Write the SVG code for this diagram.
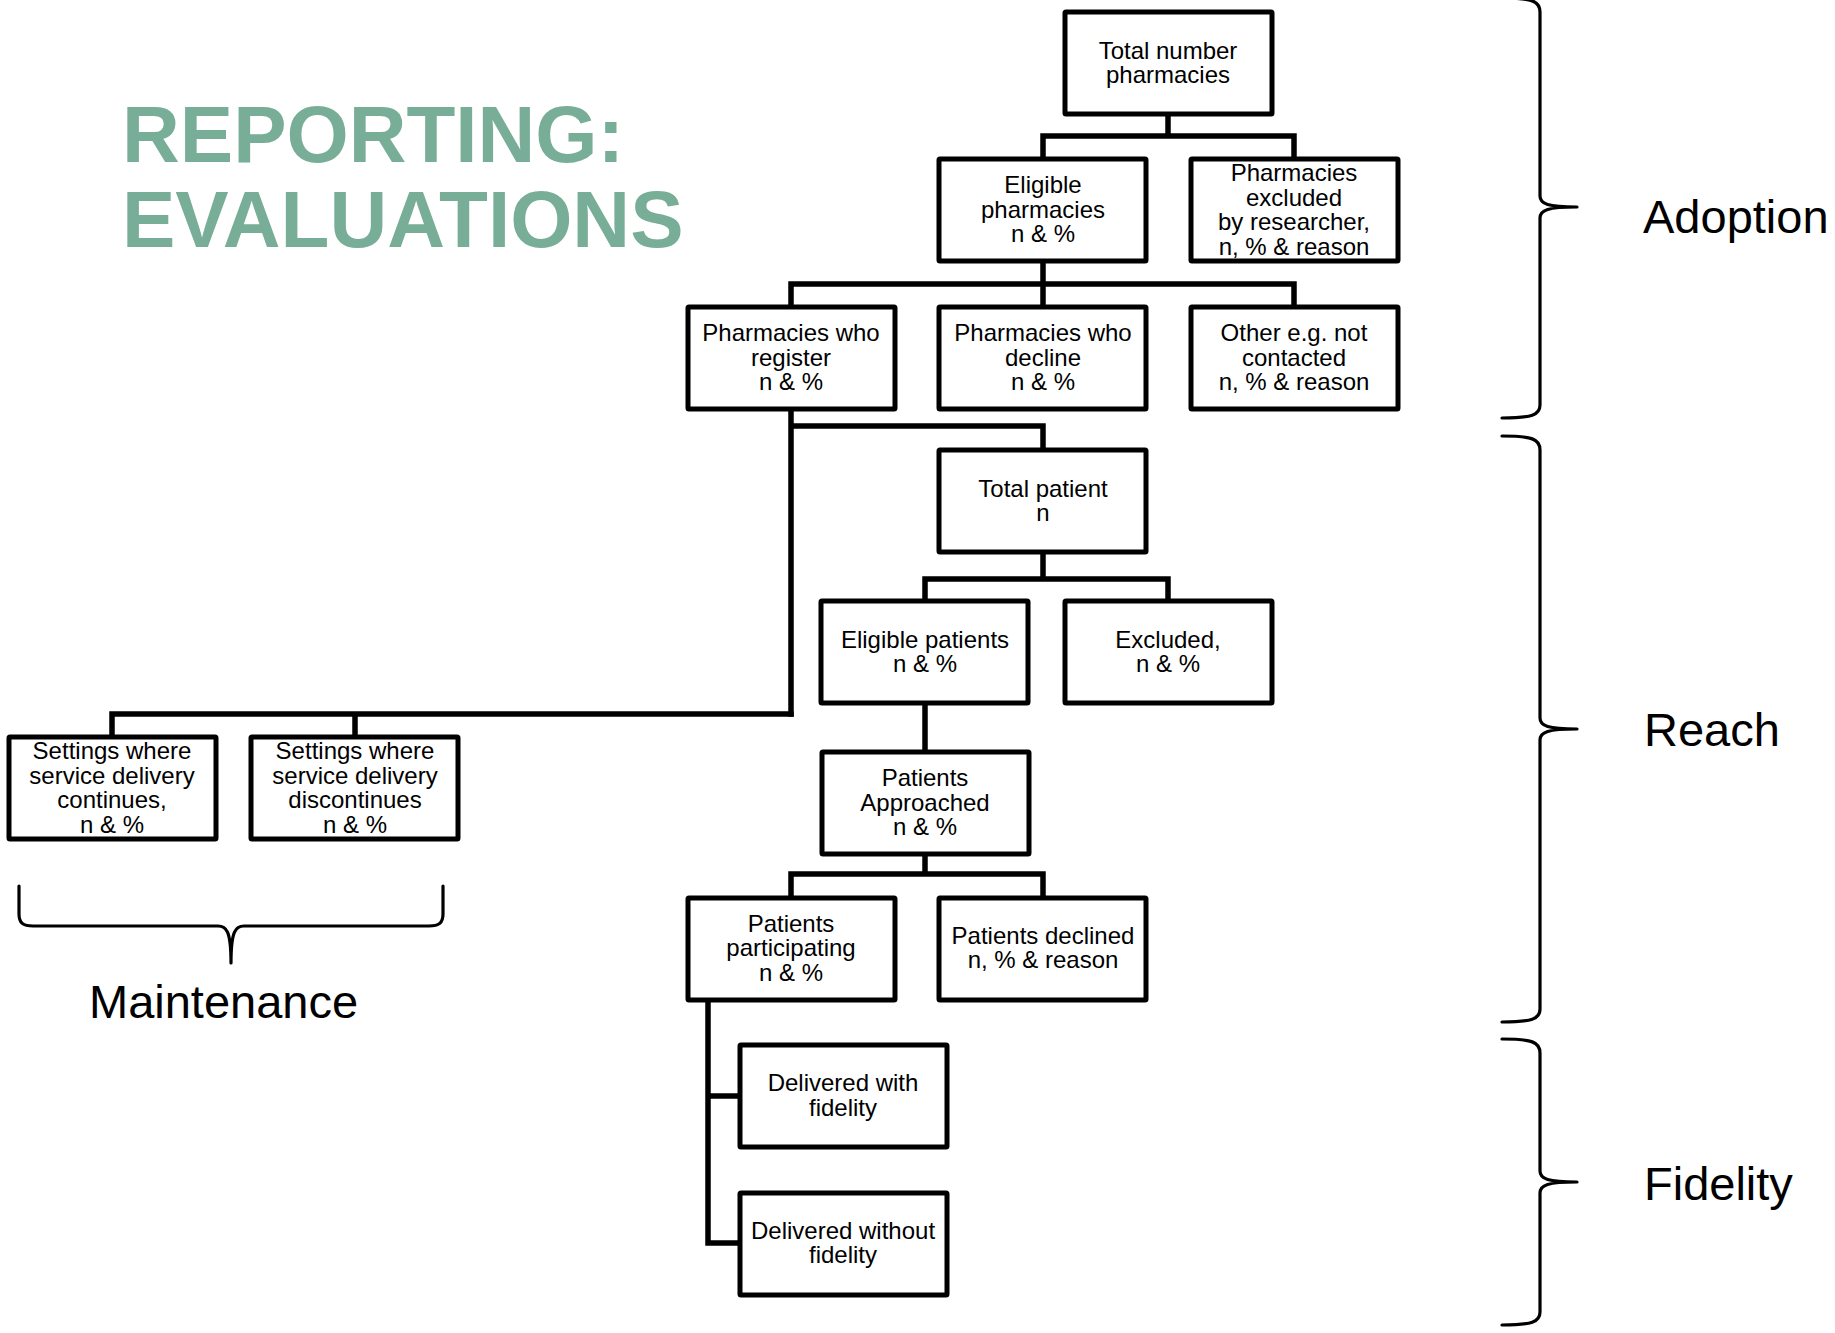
<svg xmlns="http://www.w3.org/2000/svg" width="1835" height="1333" viewBox="0 0 1835 1333">
  <style>
    .box { fill: #ffffff; stroke: #000000; stroke-width: 5; }
    .lbl { font-family: "Liberation Sans", Arial, sans-serif; font-size: 24px; fill: #000000; text-anchor: middle; }
    .wire { fill: none; stroke: #000000; stroke-width: 5.5; stroke-linecap: square; stroke-linejoin: miter; }
    .brace { fill: none; stroke: #000000; stroke-width: 3.2; stroke-linecap: round; stroke-linejoin: round; }
    .phase { font-family: "Liberation Sans", Arial, sans-serif; font-size: 47px; fill: #000000; }
    .title { font-family: "Liberation Sans", Arial, sans-serif; font-size: 80px; font-weight: bold; fill: #78AE98; }
  </style>
  <rect width="1835" height="1333" fill="#ffffff"/>

  <!-- heading -->
  <g id="title">
    <text class="title" x="122" y="162">REPORTING:</text>
    <text class="title" x="122" y="247">EVALUATIONS</text>
  </g>

  <!-- connectors -->
  <g id="connectors">
    <path class="wire" d="M1168,114 V136 M1043,136 H1294 M1043,136 V159 M1294,136 V159"/>
    <path class="wire" d="M1043,261 V284 M791,284 H1294 M791,284 V307 M1043,284 V307 M1294,284 V307"/>
    <path class="wire" d="M791,409 V714 M791,426 H1043 V450"/>
    <path class="wire" d="M112,714 H791 M112,714 V737 M355,714 V737"/>
    <path class="wire" d="M1043,552 V579 M925,579 H1168 M925,579 V601 M1168,579 V601"/>
    <path class="wire" d="M925,703 V752"/>
    <path class="wire" d="M925,854 V874 M791,874 H1043 M791,874 V898 M1043,874 V898"/>
    <path class="wire" d="M708,1000 V1243 M708,1096 H740 M708,1243 H740"/>
  </g>

  <!-- Adoption stage -->
  <g id="n-total-pharmacies">
    <rect class="box" x="1065" y="12" width="207" height="102" rx="1"/>
    <text class="lbl"><tspan x="1168" y="58.5">Total number</tspan><tspan x="1168" y="83">pharmacies</tspan></text>
  </g>
  <g id="n-eligible-pharmacies">
    <rect class="box" x="939" y="159" width="207" height="102" rx="1"/>
    <text class="lbl"><tspan x="1043" y="193">Eligible</tspan><tspan x="1043" y="217.5">pharmacies</tspan><tspan x="1043" y="242">n &amp; %</tspan></text>
  </g>
  <g id="n-excluded-pharmacies">
    <rect class="box" x="1191" y="159" width="207" height="102" rx="1"/>
    <text class="lbl"><tspan x="1294" y="181">Pharmacies</tspan><tspan x="1294" y="205.5">excluded</tspan><tspan x="1294" y="230">by researcher,</tspan><tspan x="1294" y="254.5">n, % &amp; reason</tspan></text>
  </g>
  <g id="n-register">
    <rect class="box" x="688" y="307" width="207" height="102" rx="1"/>
    <text class="lbl"><tspan x="791" y="341">Pharmacies who</tspan><tspan x="791" y="365.5">register</tspan><tspan x="791" y="390">n &amp; %</tspan></text>
  </g>
  <g id="n-decline">
    <rect class="box" x="939" y="307" width="207" height="102" rx="1"/>
    <text class="lbl"><tspan x="1043" y="341">Pharmacies who</tspan><tspan x="1043" y="365.5">decline</tspan><tspan x="1043" y="390">n &amp; %</tspan></text>
  </g>
  <g id="n-other">
    <rect class="box" x="1191" y="307" width="207" height="102" rx="1"/>
    <text class="lbl"><tspan x="1294" y="341">Other e.g. not</tspan><tspan x="1294" y="365.5">contacted</tspan><tspan x="1294" y="390">n, % &amp; reason</tspan></text>
  </g>

  <!-- Reach stage -->
  <g id="n-total-patient">
    <rect class="box" x="939" y="450" width="207" height="102" rx="1"/>
    <text class="lbl"><tspan x="1043" y="496.5">Total patient</tspan><tspan x="1043" y="521">n</tspan></text>
  </g>
  <g id="n-eligible-patients">
    <rect class="box" x="821" y="601" width="207" height="102" rx="1"/>
    <text class="lbl"><tspan x="925" y="647.5">Eligible patients</tspan><tspan x="925" y="672">n &amp; %</tspan></text>
  </g>
  <g id="n-excluded-patients">
    <rect class="box" x="1065" y="601" width="207" height="102" rx="1"/>
    <text class="lbl"><tspan x="1168" y="647.5">Excluded,</tspan><tspan x="1168" y="672">n &amp; %</tspan></text>
  </g>
  <g id="n-approached">
    <rect class="box" x="822" y="752" width="207" height="102" rx="1"/>
    <text class="lbl"><tspan x="925" y="786">Patients</tspan><tspan x="925" y="810.5">Approached</tspan><tspan x="925" y="835">n &amp; %</tspan></text>
  </g>
  <g id="n-participating">
    <rect class="box" x="688" y="898" width="207" height="102" rx="1"/>
    <text class="lbl"><tspan x="791" y="931.5">Patients</tspan><tspan x="791" y="956">participating</tspan><tspan x="791" y="980.5">n &amp; %</tspan></text>
  </g>
  <g id="n-declined">
    <rect class="box" x="939" y="898" width="207" height="102" rx="1"/>
    <text class="lbl"><tspan x="1043" y="943.5">Patients declined</tspan><tspan x="1043" y="968">n, % &amp; reason</tspan></text>
  </g>

  <!-- Fidelity stage -->
  <g id="n-with-fidelity">
    <rect class="box" x="740" y="1045" width="207" height="102" rx="1"/>
    <text class="lbl"><tspan x="843" y="1091">Delivered with</tspan><tspan x="843" y="1115.5">fidelity</tspan></text>
  </g>
  <g id="n-without-fidelity">
    <rect class="box" x="740" y="1193" width="207" height="102" rx="1"/>
    <text class="lbl"><tspan x="843" y="1238.5">Delivered without</tspan><tspan x="843" y="1263">fidelity</tspan></text>
  </g>

  <!-- Maintenance stage -->
  <g id="n-continues">
    <rect class="box" x="9" y="737" width="207" height="102" rx="1"/>
    <text class="lbl"><tspan x="112" y="759">Settings where</tspan><tspan x="112" y="783.5">service delivery</tspan><tspan x="112" y="808">continues,</tspan><tspan x="112" y="832.5">n &amp; %</tspan></text>
  </g>
  <g id="n-discontinues">
    <rect class="box" x="251" y="737" width="207" height="102" rx="1"/>
    <text class="lbl"><tspan x="355" y="759">Settings where</tspan><tspan x="355" y="783.5">service delivery</tspan><tspan x="355" y="808">discontinues</tspan><tspan x="355" y="832.5">n &amp; %</tspan></text>
  </g>

  <!-- stage braces and labels -->
  <g id="brace-adoption">
    <path class="brace" d="M1502,-2 C1532,-2 1540,1 1540,12 L1540,196 C1540,204 1548,207 1577,207 C1548,207 1540,210 1540,218 L1540,405 C1540,415 1532,418 1502,418"/>
    <text class="phase" x="1643" y="233">Adoption</text>
  </g>
  <g id="brace-reach">
    <path class="brace" d="M1502,436 C1532,436 1540,439 1540,450 L1540,718 C1540,726 1548,729 1577,729 C1548,729 1540,732 1540,740 L1540,1009 C1540,1019 1532,1022 1502,1022"/>
    <text class="phase" x="1644" y="746">Reach</text>
  </g>
  <g id="brace-fidelity">
    <path class="brace" d="M1502,1039 C1532,1039 1540,1042 1540,1053 L1540,1171 C1540,1179 1548,1182 1577,1182 C1548,1182 1540,1185 1540,1193 L1540,1312 C1540,1322 1532,1325 1502,1325"/>
    <text class="phase" x="1644" y="1200">Fidelity</text>
  </g>
  <g id="brace-maintenance">
    <path class="brace" d="M19,886 L19,914 C19,923 23,926 33,926 L218,926 C226,926 231,930 231,963 C231,930 236,926 244,926 L429,926 C439,926 443,923 443,914 L443,886"/>
    <text class="phase" x="89" y="1018">Maintenance</text>
  </g>
</svg>
